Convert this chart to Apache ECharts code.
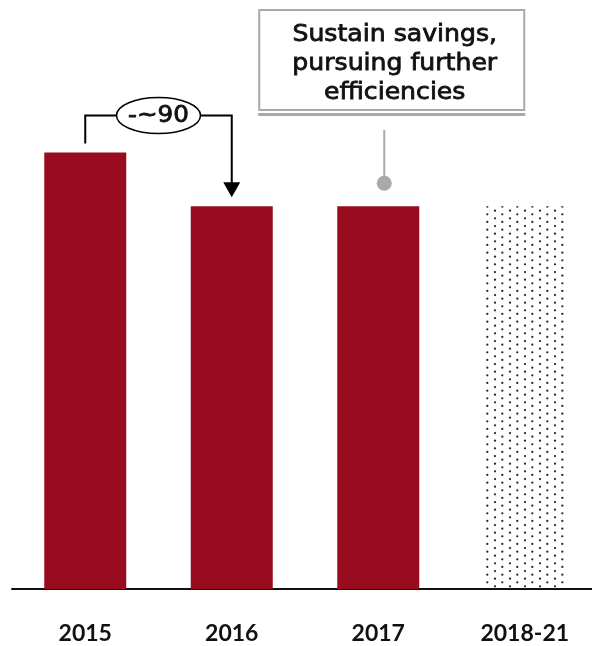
<!DOCTYPE html>
<html>
<head>
<meta charset="utf-8">
<script src="https://cdn.jsdelivr.net/npm/echarts@6/dist/echarts.min.js"></script>
<style>
  html, body { margin: 0; padding: 0; background: #ffffff; }
  #chart { width: 592px; height: 646px; }
</style>
</head>
<body>
<div id="chart"></div>
<script>
// Cost base by period; the outlook period is drawn as a dotted bar
const categories = ['2015', '2016', '2017', '2018-21'];
const actualValues = [730, 640, 640, null];
const outlookValues = [null, null, null, 640];
const reductionLabel = '-~90';
const calloutLines = ['Sustain savings,', 'pursuing further', 'efficiencies'];

const YEAR_FONT = 'Lato, "Noto Sans", sans-serif';
const NOTE_FONT = '"DejaVu Sans", Inter, sans-serif';
const RED = '#990c1f';
const GREY = '#a9a9a9';

// Staggered dot tile used to fill the outlook bar
function dotPattern() {
  const w = 15, h = 23;
  const c = document.createElement('canvas');
  c.width = w; c.height = h;
  const ctx = c.getContext('2d');
  ctx.fillStyle = '#2b2b2b';
  const step = h / 3;
  const cols = [[7.3, 7.3], [0, 3.7]];
  cols.forEach(([cx, cy0]) => {
    for (let k = 0; k < 3; k++) {
      const cy = cy0 + k * step;
      for (let dx = -1; dx <= 1; dx++) {
        for (let dy = -1; dy <= 1; dy++) {
          ctx.beginPath();
          ctx.arc(cx + dx * w, cy + dy * h, 1.15, 0, Math.PI * 2);
          ctx.fill();
        }
      }
    }
  });
  return c;
}

const chart = echarts.init(document.getElementById('chart'), null, { renderer: 'canvas' });

chart.setOption({
  animation: false,
  grid: { left: 12, width: 586, top: 0, bottom: 57, outerBoundsMode: 'none', containLabel: false },
  xAxis: {
    type: 'category',
    data: categories,
    axisTick: { show: false },
    axisLine: { lineStyle: { color: '#111', width: 2 } },
    axisLabel: {
      color: '#111',
      fontFamily: YEAR_FONT,
      fontWeight: 'bold',
      fontSize: 23,
      margin: 33
    }
  },
  yAxis: {
    type: 'value',
    min: 0,
    max: 985,
    show: false,
    splitLine: { show: false }
  },
  series: [
    {
      type: 'bar',
      data: actualValues,
      stack: 'cost',
      barWidth: 82,
      itemStyle: { color: RED }
    },
    {
      type: 'bar',
      data: outlookValues,
      stack: 'cost',
      barWidth: 81,
      itemStyle: { color: { image: dotPattern(), repeat: 'repeat' } }
    }
  ]
});

// Annotations placed from the axes' own pixel mapping
const px = (i, v) => chart.convertToPixel({ xAxisIndex: 0, yAxisIndex: 0 }, [i, v]);
const [x1, top1] = px(0, actualValues[0]);
const [x2, top2] = px(1, actualValues[1]);
const [x3, top3] = px(2, actualValues[2]);

const levelY = top1 - 37;
const midX = (x1 + x2) / 2;
const arrowTip = top2 - 9;
const arrowBase = arrowTip - 15;

const connX = x3 + 6;
const boxLeft = connX - 125;
const boxW = 265;
const boxTop = 10;
const boxH = 100;
const textX = boxLeft + boxW / 2 + 3;

const noteText = (text, x, y, size) => ({
  type: 'text',
  x: x, y: y,
  scaleX: 1.07,
  style: {
    text: text,
    fill: '#111',
    stroke: '#111',
    lineWidth: 0.8,
    font: size + 'px ' + NOTE_FONT,
    align: 'center',
    verticalAlign: 'middle'
  }
});

chart.setOption({
  graphic: [
    {
      type: 'polyline',
      shape: { points: [[x1, top1 - 9], [x1, levelY], [x2, levelY], [x2, arrowBase + 1]] },
      style: { stroke: '#000', lineWidth: 2, fill: null }
    },
    {
      type: 'polygon',
      shape: { points: [[x2 - 8.5, arrowBase], [x2 + 8.5, arrowBase], [x2, arrowTip]] },
      style: { fill: '#000' }
    },
    {
      type: 'ellipse',
      shape: { cx: midX, cy: levelY, rx: 42, ry: 18 },
      style: { fill: '#fff', stroke: '#000', lineWidth: 1.5 }
    },
    noteText(reductionLabel, midX, levelY + 1, 23),
    {
      type: 'rect',
      shape: { x: boxLeft, y: boxTop, width: boxW, height: boxH },
      style: { fill: '#fff', stroke: GREY, lineWidth: 2 }
    },
    {
      type: 'rect',
      shape: { x: boxLeft - 1, y: boxTop + boxH + 3, width: boxW + 2, height: 3 },
      style: { fill: GREY }
    },
    {
      type: 'line',
      shape: { x1: connX, y1: 130, x2: connX, y2: top3 - 23 },
      style: { stroke: GREY, lineWidth: 2 }
    },
    {
      type: 'circle',
      shape: { cx: connX, cy: top3 - 23, r: 7.5 },
      style: { fill: GREY }
    }
  ].concat(calloutLines.map((line, i) => noteText(line, textX, 35 + i * 29, 23.5)))
});
</script>
</body>
</html>
